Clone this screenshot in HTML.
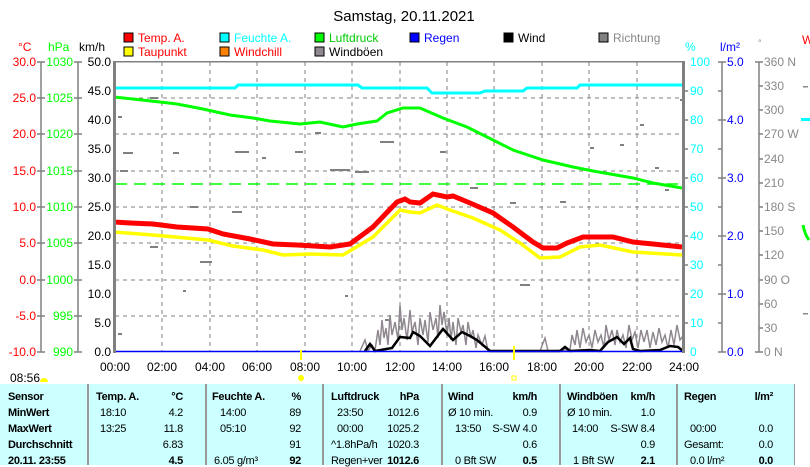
<!DOCTYPE html>
<html><head><meta charset="utf-8"><style>
body{margin:0;background:#fff;width:810px;height:465px;overflow:hidden;position:relative;font-family:"Liberation Sans",sans-serif}
svg{position:absolute;left:0;top:0}
#tbl{position:absolute;left:0;top:384px;width:795px;height:81px;background:#ccffff}
.t{position:absolute;font-size:11px;letter-spacing:-0.3px;white-space:nowrap;color:#000}
.b{font-weight:bold}
.r{text-align:right}
.sep{position:absolute;top:0;width:2px;height:81px;background:#999}
</style></head><body>
<svg width="810" height="465" font-family="Liberation Sans, sans-serif" font-size="12">
<text x="404" y="21" font-size="15" text-anchor="middle">Samstag, 20.11.2021</text>
<g font-size="12">
<rect x="124" y="33" width="9" height="9" fill="#f00" stroke="#000"/><text x="138" y="42" fill="#f00">Temp. A.</text>
<rect x="220" y="33" width="9" height="9" fill="#0ff" stroke="#000"/><text x="234" y="42" fill="#0ff">Feuchte A.</text>
<rect x="315" y="33" width="9" height="9" fill="#0f0" stroke="#000"/><text x="329" y="42" fill="#0c0">Luftdruck</text>
<rect x="410" y="33" width="9" height="9" fill="#00f" stroke="#000"/><text x="424" y="42" fill="#00f">Regen</text>
<rect x="504" y="33" width="9" height="9" fill="#000" stroke="#000"/><text x="518" y="42">Wind</text>
<rect x="599" y="33" width="9" height="9" fill="#808080" stroke="#000"/><text x="613" y="42" fill="#888">Richtung</text>
<rect x="124" y="47" width="9" height="9" fill="#ff0" stroke="#000"/><text x="138" y="56" fill="#f00">Taupunkt</text>
<rect x="220" y="47" width="9" height="9" fill="#ff8000" stroke="#000"/><text x="234" y="56" fill="#f00">Windchill</text>
<rect x="315" y="47" width="9" height="9" fill="#908890" stroke="#000"/><text x="329" y="56">Windböen</text>
</g>
<text x="18" y="51" fill="#f00">°C</text>
<text x="48" y="51" fill="#0f0">hPa</text>
<text x="79" y="51">km/h</text>
<text x="685" y="51" fill="#0ff">%</text>
<text x="720" y="51" fill="#00f">l/m²</text>
<text x="758" y="46" fill="#888" font-size="9">°</text>
<text x="802" y="44" fill="#f00">W</text>
<g stroke="#808080" stroke-dasharray="4,4" stroke-width="1">
<line x1="115" y1="98" x2="683" y2="98"/><line x1="115" y1="134" x2="683" y2="134"/><line x1="115" y1="171" x2="683" y2="171"/><line x1="115" y1="207" x2="683" y2="207"/><line x1="115" y1="243" x2="683" y2="243"/><line x1="115" y1="280" x2="683" y2="280"/><line x1="115" y1="316" x2="683" y2="316"/>
<line x1="162" y1="62" x2="162" y2="352"/><line x1="210" y1="62" x2="210" y2="352"/><line x1="257" y1="62" x2="257" y2="352"/><line x1="305" y1="62" x2="305" y2="352"/><line x1="352" y1="62" x2="352" y2="352"/><line x1="400" y1="62" x2="400" y2="352"/><line x1="447" y1="62" x2="447" y2="352"/><line x1="494" y1="62" x2="494" y2="352"/><line x1="542" y1="62" x2="542" y2="352"/><line x1="589" y1="62" x2="589" y2="352"/><line x1="637" y1="62" x2="637" y2="352"/>
</g>
<g stroke="#808080" stroke-width="1.5" fill="none">
<line x1="41" y1="62" x2="41" y2="352"/><line x1="78" y1="62" x2="78" y2="352"/>
<line x1="722" y1="62" x2="722" y2="352"/><line x1="759" y1="62" x2="759" y2="352"/>
<path d="M37 62h8M37 98h8M37 134h8M37 171h8M37 207h8M37 243h8M37 280h8M37 316h8M37 352h8"/>
<path d="M74 62h8M74 98h8M74 134h8M74 171h8M74 207h8M74 243h8M74 280h8M74 316h8M74 352h8"/>
<path d="M684 91h4M684 120h4M684 149h4M684 178h4M684 207h4M684 236h4M684 265h4M684 294h4M684 323h4"/>
<path d="M718 62h8M718 91h4M718 120h8M718 149h4M718 178h8M718 207h4M718 236h8M718 265h4M718 294h8M718 323h4M718 352h8"/>
<path d="M755 62h8M759 86h4M759 110h4M759 134h4M759 159h4M759 183h4M759 207h4M759 231h4M759 255h4M759 280h4M759 304h4M759 328h4M755 352h8"/>
</g>
<g fill="#f00" text-anchor="end"><text x="36" y="66">30.0</text><text x="36" y="102">25.0</text><text x="36" y="138">20.0</text><text x="36" y="175">15.0</text><text x="36" y="211">10.0</text><text x="36" y="247">5.0</text><text x="36" y="284">0.0</text><text x="36" y="320">-5.0</text><text x="36" y="356">-10.0</text></g>
<g fill="#0f0" text-anchor="end"><text x="73" y="66">1030</text><text x="73" y="102">1025</text><text x="73" y="138">1020</text><text x="73" y="175">1015</text><text x="73" y="211">1010</text><text x="73" y="247">1005</text><text x="73" y="284">1000</text><text x="73" y="320">995</text><text x="73" y="356">990</text></g>
<g text-anchor="end"><text x="111" y="66">50.0</text><text x="111" y="95">45.0</text><text x="111" y="124">40.0</text><text x="111" y="153">35.0</text><text x="111" y="182">30.0</text><text x="111" y="211">25.0</text><text x="111" y="240">20.0</text><text x="111" y="269">15.0</text><text x="111" y="298">10.0</text><text x="111" y="327">5.0</text><text x="111" y="356">0.0</text></g>
<g fill="#0ff"><text x="690" y="66">100</text><text x="690" y="95">90</text><text x="690" y="124">80</text><text x="690" y="153">70</text><text x="690" y="182">60</text><text x="690" y="211">50</text><text x="690" y="240">40</text><text x="690" y="269">30</text><text x="690" y="298">20</text><text x="690" y="327">10</text><text x="690" y="356">0</text></g>
<g fill="#00f"><text x="727" y="66">5.0</text><text x="727" y="124">4.0</text><text x="727" y="182">3.0</text><text x="727" y="240">2.0</text><text x="727" y="298">1.0</text><text x="727" y="356">0.0</text></g>
<g fill="#888"><text x="764" y="66">360 N</text><text x="764" y="90">330</text><text x="764" y="114">300</text><text x="764" y="138">270 W</text><text x="764" y="163">240</text><text x="764" y="187">210</text><text x="764" y="211">180 S</text><text x="764" y="235">150</text><text x="764" y="259">120</text><text x="764" y="284">90  O</text><text x="764" y="308">60</text><text x="764" y="332">30</text><text x="764" y="356">0   N</text></g>
<g text-anchor="middle"><text x="115" y="371">00:00</text><text x="162" y="371">02:00</text><text x="210" y="371">04:00</text><text x="257" y="371">06:00</text><text x="305" y="371">08:00</text><text x="352" y="371">10:00</text><text x="400" y="371">12:00</text><text x="447" y="371">14:00</text><text x="494" y="371">16:00</text><text x="542" y="371">18:00</text><text x="589" y="371">20:00</text><text x="637" y="371">22:00</text><text x="684" y="371">24:00</text></g>
<g stroke="#808080" stroke-width="2">
<path d="M118 117h4M120 171h8M123 153h10M150 98h8M173 153h6M190 207h8M232 212h10M150 247h8M200 262h12M235 152h14M262 158h4M295 152h8M315 133h6M330 170h20M355 172h14M380 142h14M440 152h6M470 188h8M510 203h6M520 285h10M560 202h6M590 148h4M620 145h4M640 125h4M655 168h4M665 190h4M680 100h3M118 334h4M183 291h3M345 296h3M385 320h4"/>
</g>
<line x1="115" y1="184" x2="683" y2="184" stroke="#0f0" stroke-width="1.5" stroke-dasharray="12,7"/>
<polyline fill="none" stroke="#0ff" stroke-width="3" points="115,88 235,88 238,85 358,85 362,88 427,88 432,93 480,93 485,91 523,91 527,88 577,88 580,85 683,85"/>
<polyline fill="none" stroke="#0f0" stroke-width="3" points="114,97 133,99 160,102 177,104 203,109 230,115 253,118 270,121 300,124 320,122 343,127 357,124 377,121 387,113 403,108 420,108 443,118 467,127 493,140 513,150 543,160 573,167 593,171 633,178 653,183 682,188"/>
<polyline fill="none" stroke="#ff0" stroke-width="3.5" points="114,232 153,235 208,240 233,246 263,250 283,255 310,254 343,255 373,237 400,210 410,212 420,213 437,205 450,210 473,218 500,230 520,243 540,258 560,257 580,247 600,245 633,252 682,255"/>
<polyline fill="none" stroke="#f00" stroke-width="5" points="114,222 130,223 153,224 177,227 208,229 223,234 250,239 273,244 297,245 330,247 350,244 373,227 397,202 405,199 410,202 420,203 433,194 447,197 453,196 470,203 493,213 513,227 533,242 543,248 557,248 567,243 583,237 613,237 633,242 653,244 682,247"/>
<polyline fill="none" stroke="#908890" stroke-width="1.5" points="360,351 365,340 368,351 372,345 375,350 378,330 380,345 382,320 384,338 386,328 388,345 390,315 392,335 395,322 398,340 400,305 402,330 404,318 407,340 410,310 412,332 415,322 418,345 420,318 423,335 425,320 428,342 430,312 433,330 436,318 438,338 440,305 442,325 444,312 447,335 449,318 451,340 453,322 456,345 458,318 461,332 463,325 466,345 468,322 471,338 473,330 476,348 478,335 482,345 485,336 488,351 540,351 545,338 548,351 570,350 572,335 575,345 577,330 580,348 583,328 586,342 589,335 592,348 595,330 598,342 601,335 604,348 606,325 609,340 612,330 615,345 617,330 620,342 623,335 626,348 629,325 632,340 635,332 638,348 641,330 644,342 647,330 650,348 653,332 656,345 659,328 662,342 665,335 668,348 671,330 674,345 677,325 680,340 683,336"/>
<polyline fill="none" stroke="#000" stroke-width="2.5" points="365,351 370,344 375,351 392,348 400,337 410,338 413,332 420,336 430,346 443,329 453,340 462,332 470,336 477,340 490,351 560,351 565,347 570,351 590,350 600,351 608,342 617,337 624,344 630,338 633,349 640,351 660,350 670,346 678,347 683,351"/>
<line x1="115" y1="351.5" x2="683" y2="351.5" stroke="#00f" stroke-width="1.5"/>
<rect x="114" y="61" width="570" height="1.5" fill="#808080"/>
<rect x="113" y="61" width="3" height="292" fill="#808080"/>
<rect x="682" y="61" width="3" height="292" fill="#808080"/>
<line x1="301" y1="350" x2="301" y2="360" stroke="#ff0" stroke-width="2"/>
<line x1="514" y1="346" x2="514" y2="360" stroke="#ff0" stroke-width="2"/>
<circle cx="301" cy="378" r="3" fill="#ff0"/>
<rect x="512" y="376" width="4" height="4" fill="none" stroke="#ff0"/>
<text x="10" y="382">08:56</text>
<path d="M40 382a4 4 0 0 1 8 0z" fill="#ff0"/>
<rect x="801" y="118" width="9" height="3" fill="#0ff"/>
<path d="M803 225q2 10 6 15" stroke="#0f0" stroke-width="3" fill="none"/>
<rect x="803" y="86" width="5" height="1.5" fill="#888"/>
<rect x="803" y="313" width="5" height="1.5" fill="#888"/>
</svg>
<div id="tbl">
<div class="sep" style="left:87px"></div><div class="sep" style="left:205px"></div><div class="sep" style="left:322px"></div><div class="sep" style="left:441px"></div><div class="sep" style="left:559px"></div><div class="sep" style="left:676px"></div><div class="sep" style="left:794px;width:1px"></div>
<div class="t b" style="left:8px;top:7px">Sensor</div>
<div class="t b" style="left:8px;top:23px">MinWert</div>
<div class="t b" style="left:8px;top:39px">MaxWert</div>
<div class="t b" style="left:8px;top:55px">Durchschnitt</div>
<div class="t b" style="left:8px;top:71px">20.11. 23:55</div>

<div class="t b" style="left:96px;top:7px">Temp. A.</div><div class="t b r" style="right:612px;top:7px">°C</div>
<div class="t" style="left:100px;top:23px">18:10</div><div class="t r" style="right:612px;top:23px">4.2</div>
<div class="t" style="left:100px;top:39px">13:25</div><div class="t r" style="right:612px;top:39px">11.8</div>
<div class="t r" style="right:612px;top:55px">6.83</div>
<div class="t b r" style="right:612px;top:71px">4.5</div>

<div class="t b" style="left:212px;top:7px">Feuchte A.</div><div class="t b r" style="right:494px;top:7px">%</div>
<div class="t" style="left:220px;top:23px">14:00</div><div class="t r" style="right:494px;top:23px">89</div>
<div class="t" style="left:220px;top:39px">05:10</div><div class="t r" style="right:494px;top:39px">92</div>
<div class="t r" style="right:494px;top:55px">91</div>
<div class="t" style="left:214px;top:71px">6.05 g/m³</div><div class="t b r" style="right:494px;top:71px">92</div>

<div class="t b" style="left:331px;top:7px">Luftdruck</div><div class="t b r" style="right:376px;top:7px">hPa</div>
<div class="t" style="left:337px;top:23px">23:50</div><div class="t r" style="right:376px;top:23px">1012.6</div>
<div class="t" style="left:337px;top:39px">00:00</div><div class="t r" style="right:376px;top:39px">1025.2</div>
<div class="t" style="left:331px;top:55px">^1.8hPa/h</div><div class="t r" style="right:376px;top:55px">1020.3</div>
<div class="t" style="left:331px;top:71px">Regen+ver</div><div class="t b r" style="right:376px;top:71px">1012.6</div>

<div class="t b" style="left:448px;top:7px">Wind</div><div class="t b r" style="right:258px;top:7px">km/h</div>
<div class="t" style="left:448px;top:23px">Ø 10 min.</div><div class="t r" style="right:258px;top:23px">0.9</div>
<div class="t" style="left:455px;top:39px">13:50</div><div class="t r" style="right:258px;top:39px">S-SW 4.0</div>
<div class="t r" style="right:258px;top:55px">0.6</div>
<div class="t" style="left:455px;top:71px">0 Bft SW</div><div class="t b r" style="right:258px;top:71px">0.5</div>

<div class="t b" style="left:567px;top:7px">Windböen</div><div class="t b r" style="right:140px;top:7px">km/h</div>
<div class="t" style="left:567px;top:23px">Ø 10 min.</div><div class="t r" style="right:140px;top:23px">1.0</div>
<div class="t" style="left:572px;top:39px">14:00</div><div class="t r" style="right:140px;top:39px">S-SW 8.4</div>
<div class="t r" style="right:140px;top:55px">0.9</div>
<div class="t" style="left:573px;top:71px">1 Bft SW</div><div class="t b r" style="right:140px;top:71px">2.1</div>

<div class="t b" style="left:684px;top:7px">Regen</div><div class="t b r" style="right:22px;top:7px">l/m²</div>
<div class="t" style="left:690px;top:39px">00:00</div><div class="t r" style="right:22px;top:39px">0.0</div>
<div class="t" style="left:684px;top:55px">Gesamt:</div><div class="t r" style="right:22px;top:55px">0.0</div>
<div class="t" style="left:690px;top:71px">0.0 l/m²</div><div class="t b r" style="right:22px;top:71px">0.0</div>
</div>
</body></html>
